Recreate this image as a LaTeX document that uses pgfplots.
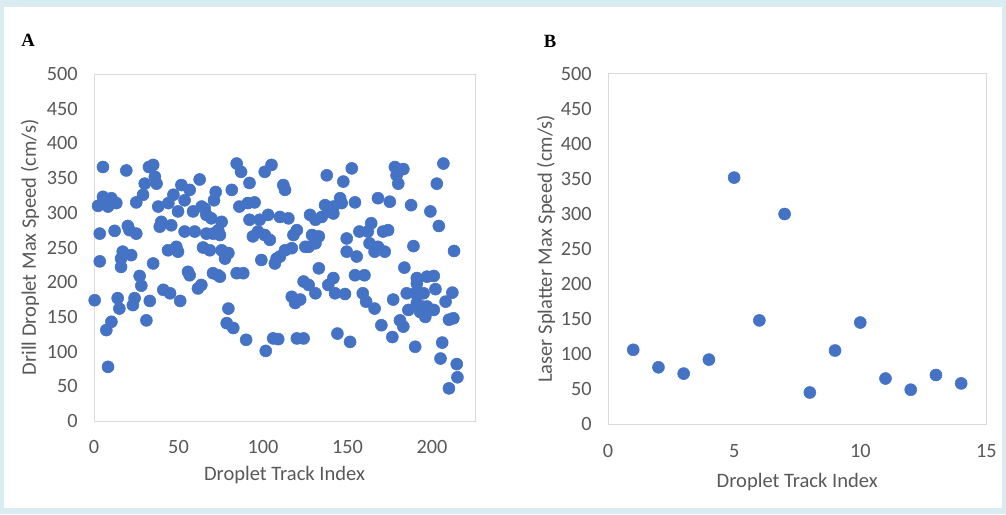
\documentclass[border=0pt]{standalone}
\usepackage{fontspec}
\setmainfont{Carlito}
\newfontfamily\letterfont{Liberation Serif}
\usepackage{pgfplots}
\pgfplotsset{compat=1.18}
\definecolor{bandblue}{RGB}{216,236,242}
\definecolor{dotblue}{RGB}{68,114,196}
\definecolor{txtgray}{RGB}{89,89,89}
\definecolor{boxgray}{RGB}{217,217,217}
\pgfplotsset{
 exc/.style={
  scale only axis,
  axis line style={boxgray, line width=0.75pt},
  ymin=0, ymax=500, ytick={0,50,...,500},
  major tick length=0pt,
  tick style={draw=none},
  ticklabel style={font=\fontsize{15.2}{17}\selectfont, text=txtgray},
  yticklabel style={anchor=east, inner sep=0pt, xshift=-12pt},
  label style={font=\fontsize{15.4}{17}\selectfont, text=txtgray},
  /pgf/number format/assume math mode=true,
  clip=false,
 },
 dots/.style={only marks, mark=*, mark size=4.5pt, mark options={fill=dotblue, draw=dotblue}},
}
\pgfplotstableread{
x y
0.4 174
2.4 310
3.4 270
3.4 230
5.3 366
5.3 323
7.3 131
8.3 309
8.3 78
10.3 321
10.3 143
12.2 274
13.2 314
14 177
15 162
16 234
16 222
17 244
19.1 361
20 281
21 275
22 239
23 167
24 177
25 315
25 270
27 209
28 195
29 326
30 342
31 145
32.5 366
33 173
35 369
35 227
36 352
37 342
38 309
38.9 280
39.8 287
41 189
43.8 246
44 314
45 184
45.7 282
47 326
48.7 251
49.7 302
49.7 244
51 173
51.7 340
53.6 318
53.6 273
55.6 215
56.6 333
56.6 210
58.6 302
59.6 273
61.5 191
62.5 348
63.5 196
63.7 309
64.5 250
65.5 306
66.5 297
66.5 270
68.5 246
69.4 292
70.4 270
70.4 213
71 318
72 330
73.4 210
73.5 275
74.5 268
74.5 208
75.5 287
75.5 246
77.5 234
78.5 141
79.5 242
79.5 162
81.5 333
82.4 134
84.4 371
84.4 213
86 309
87 359
88.3 213
90 117
91 314
92 343
92 290
94 266
95 315
97 273
98 290
99 232
101 359
101 268
101.6 101
103 297
104 261
105 369
106 119
107 227
108 234
109 118
110 294
110 237
112 340
113 333
113 246
115 292
117 249
117 179
118 268
119 170
120 275
120 119
122 175
124 201
124 119
125 251
127 196
127 251
127.8 297
129 268
131 290
131 256
131 184
133 266
133 220
134.7 294
137.7 354
136.7 311
138.6 302
138.6 196
140.6 304
141.6 309
141.6 299
141.6 206
142.6 184
144 126
145.6 321
146.5 314
147.5 345
148.5 183
149.5 263
149.5 244
151.5 114
152.5 364
154.4 315
154.4 210
155.4 237
157 273
159 184
160 210
161 172
162 273
163 256
164 285
166 244
166 162
168 321
168 251
170 138
171 273
172 244
174 275
175 316
176.5 121
177 175
178 366
179 354
180 342
181 145
183 363
183 136
183.6 221
185 184
186 160
187.6 311
189 252
190 184
190 107
191 206
191 198
191 170
193 157
194 165
195 184
196 150
197 165
197 208
199 302
201 209
201 160
202 190
202.8 342
204 281
205 90
206 113
206.7 371
208 172
210 146
210 47
212 185
212.6 148
213 245
214.6 82
215 63
}\dataA
\pgfplotstableread{
x y
1 106
2 81
3 72
4 92
5 352
6 148
7 300
8 45
9 105
10 145
11 65
12 49
13 70
14 58
}\dataB
\begin{document}
\begin{tikzpicture}[x=0.75pt,y=0.75pt]
\fill[bandblue] (0,0) rectangle (1006,514);
\fill[white] (4,6) rectangle (1002,507);
\node[font=\letterfont\bfseries\fontsize{14}{14}\selectfont, anchor=center] at (28,474) {A};
\node[font=\letterfont\bfseries\fontsize{14}{14}\selectfont, anchor=center] at (550,473) {B};
\begin{axis}[exc,
  at={(70.5pt,69.75pt)}, anchor=south west,
  width=285.75pt, height=260.25pt,
  xmin=0, xmax=225.4, xtick={0,50,100,150,200},
  xticklabel style={anchor=north, inner sep=0pt, yshift=-14.25pt},
  xlabel={Droplet Track Index},
  ylabel={Drill Droplet Max Speed (cm/s)},
  xlabel style={at={(axis description cs:0.5,-0.1556)}, anchor=center},
  ylabel style={at={(axis description cs:-0.168,0.5)}, anchor=center},
]
\addplot[dots] table[x=x,y=y] {\dataA};
\end{axis}
\begin{axis}[exc,
  at={(456pt,67.5pt)}, anchor=south west,
  width=283.8pt, height=262.5pt,
  xmin=0, xmax=15, xtick={0,5,10,15},
  xticklabel style={anchor=north, inner sep=0pt, yshift=-15pt},
  xlabel={Droplet Track Index},
  ylabel={Laser Splatter Max Speed (cm/s)},
  xlabel style={at={(axis description cs:0.5,-0.1646)}, anchor=center},
  ylabel style={at={(axis description cs:-0.1638,0.5)}, anchor=center},
]
\addplot[dots] table[x=x,y=y] {\dataB};
\end{axis}
\end{tikzpicture}
\end{document}
